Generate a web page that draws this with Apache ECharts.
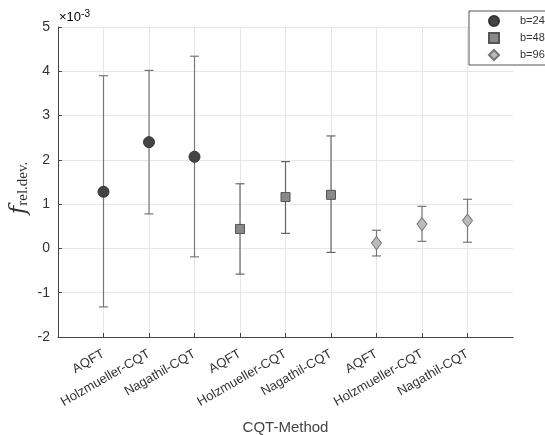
<!DOCTYPE html>
<html>
<head>
<meta charset="utf-8">
<script src="https://cdn.jsdelivr.net/npm/echarts@6/dist/echarts.min.js"></script>
<style>
  html, body { margin: 0; padding: 0; background: #fff; }
  #chart { width: 545px; height: 435px; }
</style>
</head>
<body>
<div id="chart"></div>
<script>
  // values in units of 1e-3
  const methods = ["AQFT", "Holzmueller-CQT", "Nagathil-CQT", "AQFT", "Holzmueller-CQT", "Nagathil-CQT", "AQFT", "Holzmueller-CQT", "Nagathil-CQT"];
  const tickPos = [1, 2, 3, 4, 5, 6, 7, 8, 9];

  const b24Pos = [1, 2, 3];
  const b24Mean = [1.28, 2.40, 2.07];
  const b24Low = [-1.32, 0.78, -0.19];
  const b24High = [3.90, 4.02, 4.34];

  const b48Pos = [4, 5, 6];
  const b48Mean = [0.44, 1.16, 1.21];
  const b48Low = [-0.58, 0.34, -0.09];
  const b48High = [1.46, 1.96, 2.54];

  const b96Pos = [7, 8, 9];
  const b96Mean = [0.12, 0.55, 0.63];
  const b96Low = [-0.17, 0.16, 0.14];
  const b96High = [0.41, 0.95, 1.11];

  const chart = echarts.init(document.getElementById("chart"));

  function errorBars(pos, low, high, color) {
    return {
      type: "custom",
      name: "err",
      z: 1,
      renderItem: (params, api) => {
        const x = api.value(0);
        const lo = api.coord([x, api.value(1)]);
        const hi = api.coord([x, api.value(2)]);
        const w = 4.5;
        const style = { stroke: color, lineWidth: 1.2 };
        return {
          type: "group",
          children: [
            { type: "line", shape: { x1: lo[0], y1: lo[1], x2: hi[0], y2: hi[1] }, style },
            { type: "line", shape: { x1: lo[0] - w, y1: lo[1], x2: lo[0] + w, y2: lo[1] }, style },
            { type: "line", shape: { x1: hi[0] - w, y1: hi[1], x2: hi[0] + w, y2: hi[1] }, style },
          ],
        };
      },
      data: pos.map((p, i) => [p, low[i], high[i]]),
      silent: true,
    };
  }

  function markers(name, pos, mean, symbol, size, fill, edge) {
    return {
      type: "scatter",
      name: name,
      z: 3,
      symbol: symbol,
      symbolSize: size,
      itemStyle: { color: fill, borderColor: edge, borderWidth: 1, opacity: 1 },
      data: pos.map((p, i) => [p, mean[i]]),
    };
  }

  chart.setOption({
    animation: false,
    grid: { left: 58, right: 32, top: 27, bottom: 98, containLabel: false, outerBoundsMode: "none" },
    legend: {
      orient: "vertical",
      left: 469,
      top: 11,
      padding: [4, 20, 4, 19],
      itemGap: 5,
      itemWidth: 10,
      itemHeight: 10,
      borderColor: "#555",
      borderWidth: 1,
      backgroundColor: "#fff",
      textStyle: { fontFamily: "Liberation Sans", fontSize: 11, color: "#333", padding: [0, 0, 0, 16] },
      data: [
        { name: "b=24", icon: "circle", itemStyle: { color: "#444", borderColor: "#333" } },
        { name: "b=48", icon: "rect", itemStyle: { color: "#888", borderColor: "#555" } },
        { name: "b=96", icon: "diamond", itemStyle: { color: "#bbb", borderColor: "#777" } },
      ],
    },
    xAxis: {
      type: "value",
      min: 0,
      max: 10,
      interval: 1,
      name: "CQT-Method",
      nameLocation: "middle",
      nameGap: 83,
      nameMoveOverlap: false,
      nameTextStyle: { fontFamily: "Liberation Sans", fontSize: 15, color: "#444" },
      axisLine: { onZero: false, lineStyle: { color: "#444" } },
      axisTick: { inside: true, length: 4, customValues: tickPos, lineStyle: { color: "#444" } },
      axisLabel: {
        customValues: tickPos,
        rotate: 30,
        fontFamily: "Liberation Sans",
        fontSize: 13,
        color: "#333",
        margin: 16,
        formatter: (v) => methods[Math.round(v) - 1] || "",
      },
      splitLine: { show: true, lineStyle: { color: "#e6e6e6" } },
    },
    yAxis: {
      type: "value",
      min: -2,
      max: 5,
      interval: 1,
      name: "{f|f}{s|rel.dev.}",
      nameLocation: "middle",
      nameGap: 27,
      nameMoveOverlap: false,
      nameTextStyle: {
        padding: [0, 12, 0, 0],
        rich: {
          f: { fontFamily: "DejaVu Serif", fontStyle: "italic", fontSize: 23, color: "#333" },
          s: { fontFamily: "Liberation Serif", fontSize: 15, color: "#333", padding: [9, 0, 0, 0], verticalAlign: "bottom" },
        },
      },
      axisLine: { show: true, lineStyle: { color: "#444" } },
      axisTick: { show: true, inside: true, length: 4, lineStyle: { color: "#444" } },
      axisLabel: { fontFamily: "Liberation Sans", fontSize: 14, color: "#333", margin: 8 },
      splitLine: { show: true, lineStyle: { color: "#e6e6e6" } },
    },
    graphic: [
      {
        type: "text",
        left: 59,
        top: 9,
        style: {
          text: "{a|×10}{b|-3}",
          rich: {
            a: { fontFamily: "Liberation Sans", fontSize: 13, color: "#444" },
            b: { fontFamily: "Liberation Sans", fontSize: 10, color: "#444", verticalAlign: "top", padding: [0, 0, 6, 0] },
          },
        },
      },
    ],
    series: [
      markers("b=24", b24Pos, b24Mean, "circle", 11, "#444", "#333"),
      markers("b=48", b48Pos, b48Mean, "rect", 9, "#888", "#555"),
      markers("b=96", b96Pos, b96Mean, "diamond", [10, 13], "#bbb", "#777"),
      errorBars(b24Pos, b24Low, b24High, "#777"),
      errorBars(b48Pos, b48Low, b48High, "#666"),
      errorBars(b96Pos, b96Low, b96High, "#777"),
    ],
  });
</script>
</body>
</html>
